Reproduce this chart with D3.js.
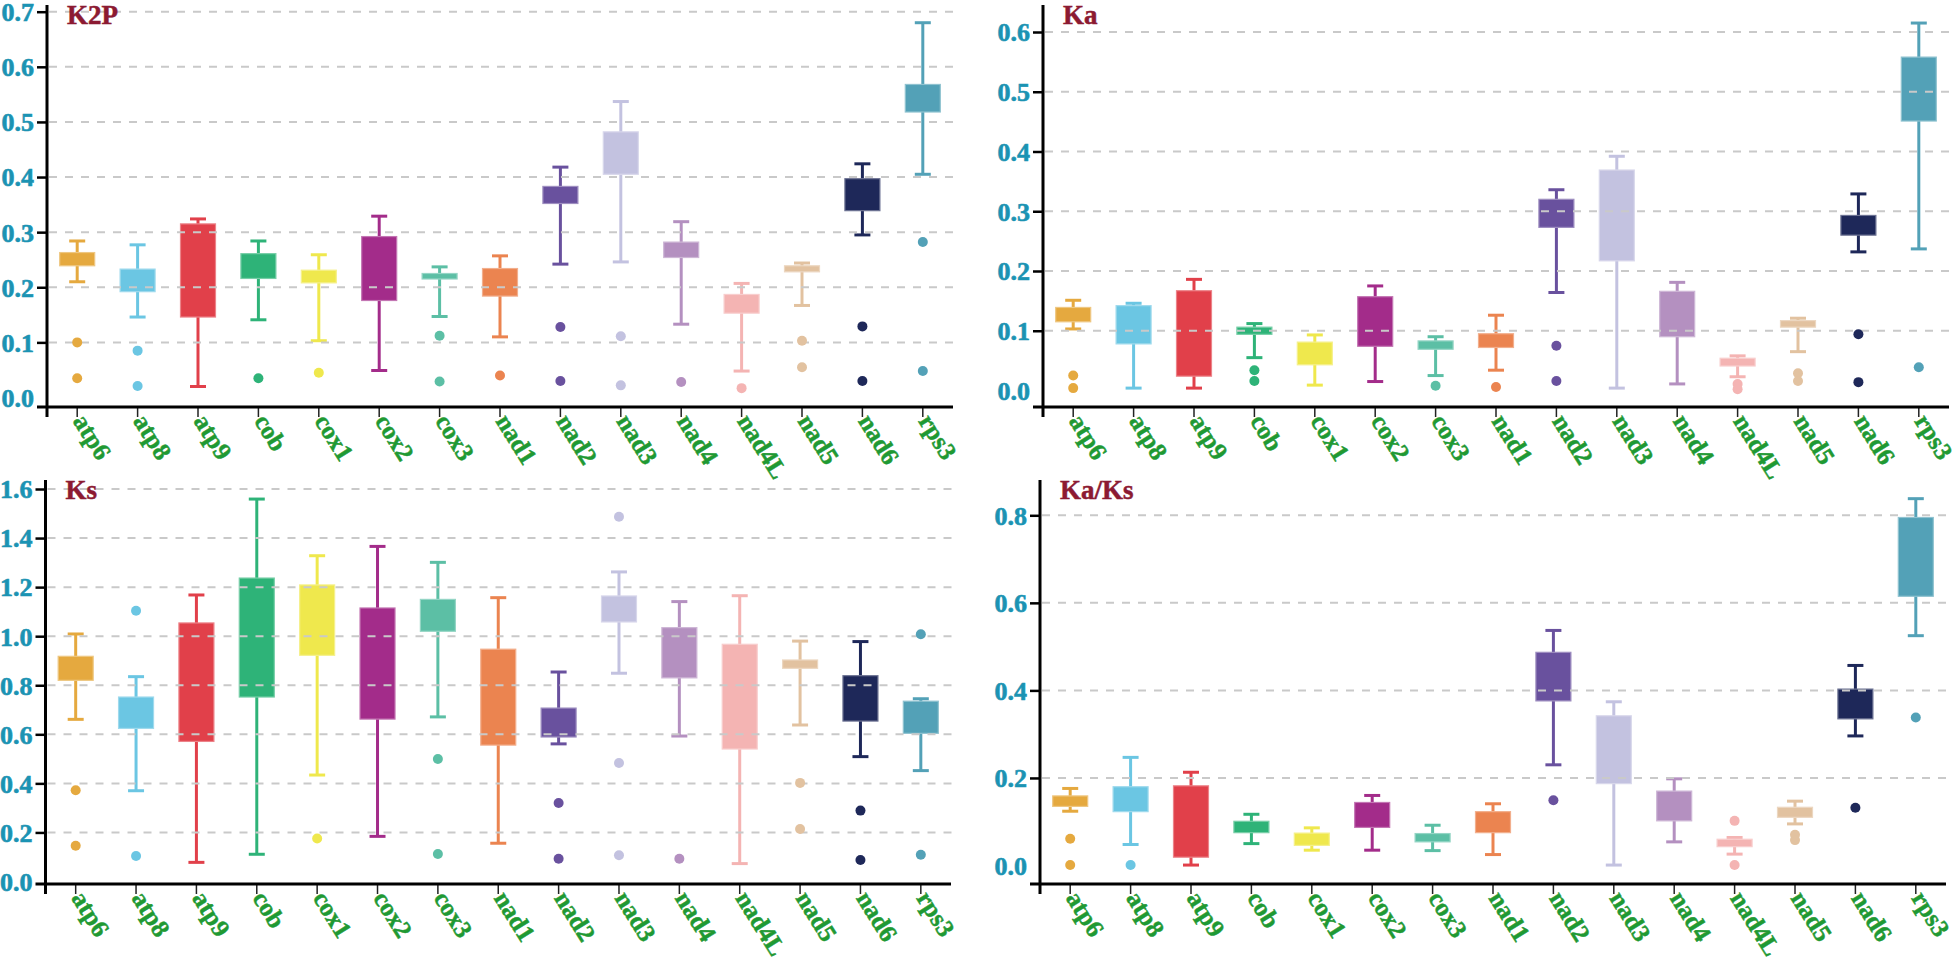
<!DOCTYPE html>
<html><head><meta charset="utf-8">
<script src="https://cdn.jsdelivr.net/npm/d3@7"></script>
<style>body{margin:0;background:#fff}svg{display:block}</style>
</head><body>
<svg id="c" width="1960" height="962"></svg>
<script>
const genes = ["atp6","atp8","atp9","cob","cox1","cox2","cox3","nad1","nad2","nad3","nad4","nad4L","nad5","nad6","rps3"];
const geneColors = ["#E5A93F","#6BC6E3","#E1404A","#2EB378","#EFE84D","#A32C8A","#5CBFA5","#EB8450","#69519E","#C3C2E0","#B490C0","#F4B4B3","#E2C2A0","#1E2859","#53A1B7"];

// K2P
const k2pLow  = [0.210,0.146,0.020,0.141,0.103,0.049,0.147,0.110,0.242,0.246,0.133,0.048,0.167,0.295,0.405];
const k2pQ1   = [0.239,0.192,0.146,0.216,0.208,0.176,0.215,0.184,0.352,0.405,0.254,0.153,0.228,0.339,0.518];
const k2pQ3   = [0.263,0.233,0.315,0.261,0.231,0.292,0.225,0.234,0.383,0.482,0.282,0.187,0.239,0.397,0.568];
const k2pHigh = [0.284,0.277,0.324,0.284,0.259,0.329,0.237,0.257,0.418,0.537,0.319,0.207,0.244,0.424,0.680];
const k2pOut  = [[0.100,0.035],[0.085,0.021],[],[0.035],[0.045],[],[0.112,0.029],[0.040],[0.128,0.030],[0.111,0.022],[0.028],[0.017],[0.103,0.055],[0.129,0.030],[0.282,0.048]];
const k2pTicks = [0,0.1,0.2,0.3,0.4,0.5,0.6,0.7];

// Ka
const kaLow  = [0.103,0.004,0.004,0.055,0.009,0.015,0.025,0.034,0.164,0.004,0.011,0.023,0.065,0.232,0.237];
const kaQ1   = [0.115,0.078,0.024,0.094,0.043,0.074,0.069,0.072,0.273,0.217,0.090,0.041,0.106,0.260,0.451];
const kaQ3   = [0.139,0.142,0.167,0.106,0.081,0.157,0.083,0.095,0.320,0.369,0.166,0.054,0.117,0.293,0.558];
const kaHigh = [0.151,0.146,0.186,0.112,0.093,0.175,0.090,0.126,0.336,0.392,0.181,0.058,0.121,0.329,0.615];
const kaOut  = [[0.025,0.004],[],[],[0.034,0.016],[],[],[0.008],[0.006],[0.075,0.016],[],[],[0.011,0.002],[0.029,0.016],[0.094,0.014],[0.039]];
const kaTicks = [0,0.1,0.2,0.3,0.4,0.5,0.6];

// Ks
const ksLow  = [0.661,0.370,0.078,0.111,0.434,0.184,0.671,0.156,0.561,0.849,0.593,0.073,0.638,0.509,0.452];
const ksQ1   = [0.820,0.624,0.571,0.752,0.922,0.662,1.020,0.556,0.589,1.058,0.830,0.540,0.869,0.654,0.604];
const ksQ3   = [0.918,0.752,1.054,1.237,1.209,1.115,1.150,0.947,0.707,1.164,1.035,0.967,0.903,0.839,0.735];
const ksHigh = [1.009,0.835,1.168,1.559,1.328,1.366,1.301,1.157,0.854,1.262,1.141,1.165,0.980,0.978,0.745];
const ksOut  = [[0.372,0.146],[1.104,0.104],[],[],[0.175],[],[0.499,0.112],[],[0.320,0.093],[1.487,0.483,0.107],[0.093],[],[0.402,0.214],[0.289,0.088],[1.008,0.109]];
const ksTicks = [0,0.2,0.4,0.6,0.8,1.0,1.2,1.4,1.6];

// Ka/Ks
const kaksLow  = [0.124,0.048,0.001,0.050,0.035,0.035,0.034,0.025,0.230,0.001,0.054,0.026,0.095,0.296,0.525];
const kaksQ1   = [0.135,0.123,0.019,0.075,0.046,0.087,0.054,0.075,0.376,0.187,0.102,0.043,0.110,0.335,0.615];
const kaksQ3   = [0.159,0.180,0.182,0.101,0.074,0.144,0.073,0.123,0.487,0.342,0.170,0.060,0.133,0.403,0.795];
const kaksHigh = [0.176,0.247,0.213,0.117,0.086,0.160,0.092,0.141,0.537,0.374,0.198,0.064,0.147,0.457,0.838];
const kaksOut  = [[0.061,0.001],[0.001],[],[],[],[],[],[],[0.149],[],[],[0.102,0.001],[0.070,0.058],[0.132],[0.338]];
const kaksTicks = [0,0.2,0.4,0.6,0.8];

const titles = ["K2P","Ka","Ks","Ka/Ks"];

const panels = [
  {title:titles[0], low:k2pLow, q1:k2pQ1, q3:k2pQ3, high:k2pHigh, out:k2pOut, ticks:k2pTicks,
   x0:47, x1:953, yZero:397.5, yTopPx:11.7, axisY:407, axisTop:5},
  {title:titles[1], low:kaLow, q1:kaQ1, q3:kaQ3, high:kaHigh, out:kaOut, ticks:kaTicks,
   x0:1043, x1:1949, yZero:390.5, yTopPx:32, axisY:407, axisTop:5},
  {title:titles[2], low:ksLow, q1:ksQ1, q3:ksQ3, high:ksHigh, out:ksOut, ticks:ksTicks,
   x0:45.5, x1:951, yZero:881.5, yTopPx:489, axisY:884, axisTop:480},
  {title:titles[3], low:kaksLow, q1:kaksQ1, q3:kaksQ3, high:kaksHigh, out:kaksOut, ticks:kaksTicks,
   x0:1040, x1:1946, yZero:865.5, yTopPx:515.3, axisY:884, axisTop:480}
];

const svg = d3.select("#c");
const FONT = "'Liberation Serif','Times New Roman',serif";
const boxW = 35, capW = 16;

function fitSize(sample, targetW, base) {
  const t = svg.append("text").text(sample).style("font-family",FONT)
    .style("font-weight","bold").style("font-size",base+"px");
  const w = t.node().getComputedTextLength();
  t.remove();
  return w > 0 ? base * targetW / w : base;
}
const tickFS  = fitSize("0.6", 32.5, 26);
const xLabFS  = fitSize("atp6", 48, 26);
const titleFS = fitSize("K2P", 51, 27);

panels.forEach(p => {
  const g = svg.append("g");
  const x = d3.scaleBand().domain(genes).range([p.x0, p.x1]).paddingInner(0).paddingOuter(0);
  const y = d3.scaleLinear().domain([0, d3.max(p.ticks)]).range([p.yZero, p.yTopPx]);
  const cx = i => x(genes[i]) + x.bandwidth()/2;

  const items = genes.map((gn,i)=>({i, gn, c:geneColors[i], low:p.low[i], q1:p.q1[i], q3:p.q3[i], high:p.high[i], out:p.out[i]}));
  const b = g.append("g").selectAll("g.b").data(items).join("g").attr("class","b");
  b.append("line").attr("x1",d=>cx(d.i)).attr("x2",d=>cx(d.i))
    .attr("y1",d=>y(d.low)).attr("y2",d=>y(d.high))
    .attr("stroke",d=>d.c).attr("stroke-width",3);
  b.append("line").attr("x1",d=>cx(d.i)-capW/2).attr("x2",d=>cx(d.i)+capW/2)
    .attr("y1",d=>y(d.low)).attr("y2",d=>y(d.low))
    .attr("stroke",d=>d.c).attr("stroke-width",3);
  b.append("line").attr("x1",d=>cx(d.i)-capW/2).attr("x2",d=>cx(d.i)+capW/2)
    .attr("y1",d=>y(d.high)).attr("y2",d=>y(d.high))
    .attr("stroke",d=>d.c).attr("stroke-width",3);
  b.append("rect").attr("x",d=>cx(d.i)-boxW/2).attr("width",boxW)
    .attr("y",d=>y(d.q3)).attr("height",d=>Math.max(1,y(d.q1)-y(d.q3)))
    .attr("fill",d=>d.c)
    .attr("stroke",d=>d3.interpolateRgb(d.c,"#ffffff")(0.35)).attr("stroke-width",1.2);

  g.append("g").selectAll("line").data(p.ticks.filter(t=>t>0)).join("line")
    .attr("x1",p.x0+2).attr("x2",p.x1+4)
    .attr("y1",d=>y(d)).attr("y2",d=>y(d))
    .attr("stroke","#c9c9c9").attr("stroke-width",2).attr("stroke-dasharray","8,8");

  const pts = [];
  items.forEach(d=>d.out.forEach(v=>pts.push({i:d.i,c:d.c,v})));
  g.append("g").selectAll("circle").data(pts).join("circle")
    .attr("cx",d=>cx(d.i)).attr("cy",d=>y(d.v)).attr("r",5).attr("fill",d=>d.c);

  const ya = g.append("g").attr("transform",`translate(${p.x0},0)`)
    .call(d3.axisLeft(y).tickValues(p.ticks).tickSize(10).tickPadding(3).tickFormat(d3.format(".1f")));
  ya.select(".domain").remove();
  ya.selectAll(".tick line").attr("stroke","#000").attr("stroke-width",2.5)
    .attr("display",d=>d===0?"none":null);
  ya.selectAll(".tick text").attr("fill","#1B93B3").attr("dy","0.34em")
    .attr("stroke","#1B93B3").attr("stroke-width",0.6)
    .style("font-family",FONT).style("font-weight","bold").style("font-size",tickFS+"px");

  const xa = g.append("g").attr("transform",`translate(0,${p.axisY})`)
    .call(d3.axisBottom(x).tickSize(10));
  xa.select(".domain").remove();
  xa.selectAll(".tick line").attr("stroke","#222").attr("stroke-width",1.5);
  xa.selectAll(".tick text").attr("x",0).attr("y",0).attr("dy",0)
    .attr("transform","translate(-5,14) rotate(58)")
    .attr("text-anchor","start").attr("fill","#1F9933")
    .attr("stroke","#1F9933").attr("stroke-width",0.5)
    .style("font-family",FONT).style("font-weight","bold").style("font-size",xLabFS+"px");

  g.append("line").attr("x1",p.x0).attr("x2",p.x0).attr("y1",p.axisTop).attr("y2",p.axisY+10)
    .attr("stroke","#000").attr("stroke-width",3);
  g.append("line").attr("x1",p.x0-10).attr("x2",p.x1).attr("y1",p.axisY).attr("y2",p.axisY)
    .attr("stroke","#000").attr("stroke-width",3);

  g.append("text").attr("x",p.x0+20).attr("y",p.axisTop+19).text(p.title)
    .attr("fill","#8C1A32").attr("stroke","#8C1A32").attr("stroke-width",0.5)
    .style("font-family",FONT).style("font-weight","bold").style("font-size",titleFS+"px");
});
</script>
</body></html>
